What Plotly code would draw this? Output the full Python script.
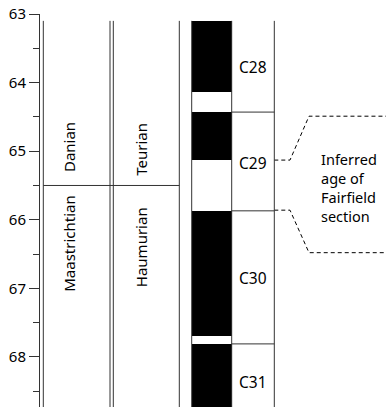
import plotly.graph_objects as go

# ---- data (ages in Ma) ----
axis_top = 63.0
column_top = 63.1
axis_bottom = 68.73
major_ticks = [63, 64, 65, 66, 67, 68]

stage_names = ["Danian", "Maastrichtian"]
nz_stage_names = ["Teurian", "Haumurian"]
stage_boundary = 65.5

normal_tops = [63.1, 64.43, 65.87, 67.81]
normal_bottoms = [64.13, 65.13, 67.70, 68.80]

chron_names = ["C28", "C29", "C30", "C31"]
chron_boundaries = [64.43, 65.87, 67.81]

inferred_top = 65.13
inferred_bottom = 65.86
bracket_top = 64.49
bracket_bottom = 66.48
inferred_text = "Inferred<br>age of<br>Fairfield<br>section"

# ---- layout constants (x in pixel-like units) ----
W, H = 386, 407
X0 = 40
col_lines = [43.3, 110, 113.3, 179.3, 191.7, 231.7, 274.3]
bar_left, bar_right = 191.7, 231.7
stage_x = 69
nz_x = 141
chron_x = 253
stage_label_y = [64.94, 66.35]
nz_label_y = [64.98, 66.40]
chron_label_y = [63.77, 65.17, 66.85, 68.36]
FONT = "Noto Sans"
FS = 15
LC = "#333333"

fig = go.Figure()

# polarity blocks (normal = black)
fig.add_trace(go.Bar(
    x=[(bar_left + bar_right) / 2] * len(normal_tops),
    base=normal_tops,
    y=[b - t for b, t in zip(normal_bottoms, normal_tops)],
    width=bar_right - bar_left,
    marker=dict(color="black", line=dict(width=0)),
    hoverinfo="skip", showlegend=False,
))

# dashed bracket lines
for v, b in [(inferred_top, bracket_top), (inferred_bottom, bracket_bottom)]:
    fig.add_trace(go.Scatter(
        x=[274.3, 290, 309, W], y=[v, v, b, b], mode="lines",
        line=dict(color="black", width=1, dash="4px,3px"),
        hoverinfo="skip", showlegend=False, cliponaxis=False,
    ))

shapes = []
for xv in col_lines:
    shapes.append(dict(type="line", xref="x", yref="y", x0=xv, x1=xv,
                       y0=column_top, y1=axis_bottom + 0.1,
                       line=dict(color=LC, width=1)))
shapes.append(dict(type="line", xref="x", yref="y", x0=43.3, x1=179.3,
                   y0=stage_boundary, y1=stage_boundary,
                   line=dict(color=LC, width=1)))
for cb in chron_boundaries:
    shapes.append(dict(type="line", xref="x", yref="y", x0=231.7, x1=274.3,
                       y0=cb, y1=cb, line=dict(color=LC, width=1)))

ann = []
for name, yv in zip(stage_names, stage_label_y):
    ann.append(dict(x=stage_x, y=yv, text=name, textangle=-90, showarrow=False,
                    xref="x", yref="y", font=dict(family=FONT, size=FS, color="black")))
for name, yv in zip(nz_stage_names, nz_label_y):
    ann.append(dict(x=nz_x, y=yv, text=name, textangle=-90, showarrow=False,
                    xref="x", yref="y", font=dict(family=FONT, size=FS, color="black")))
for name, yv in zip(chron_names, chron_label_y):
    ann.append(dict(x=chron_x, y=yv, text=name, showarrow=False,
                    xref="x", yref="y", font=dict(family=FONT, size=15.5, color="black")))
ann.append(dict(x=319, y=65.53, text=inferred_text, showarrow=False, xanchor="left",
                align="left", xref="x", yref="y",
                font=dict(family=FONT, size=14.5, color="black")))

fig.update_layout(
    width=W, height=H,
    margin=dict(l=X0, r=0, t=14, b=0, pad=0),
    plot_bgcolor="white", paper_bgcolor="white",
    shapes=shapes, annotations=ann,
    bargap=0,
    xaxis=dict(range=[X0, W], visible=False, fixedrange=True, automargin=False),
    yaxis=dict(range=[axis_bottom, axis_top], tickvals=major_ticks,
               automargin=False, fixedrange=True,
               showline=True, linecolor=LC, linewidth=1,
               ticks="outside", ticklen=10, tickcolor=LC, tickwidth=1,
               showgrid=False, zeroline=False,
               tickfont=dict(family=FONT, size=FS, color="black"),
               minor=dict(dtick=0.5, tick0=63, ticks="outside", ticklen=6,
                          tickcolor=LC, showgrid=False)),
    showlegend=False,
)

fig.write_html("out.html", config={"displayModeBar": False, "staticPlot": True},
               post_script="document.body.style.margin='0';document.body.style.overflow='hidden';")
